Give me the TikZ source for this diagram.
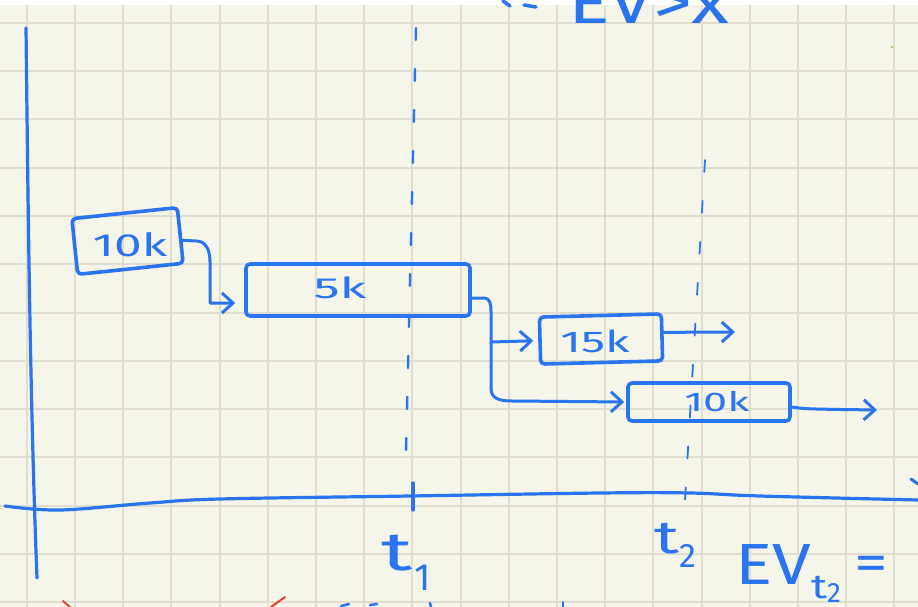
\documentclass[tikz,border=0pt]{standalone}
\usepackage{fontspec}
\setmainfont{Fira Sans}
\usetikzlibrary{arrows.meta}
\definecolor{paper}{RGB}{246,245,234}
\definecolor{gridc}{RGB}{223,222,208}
\definecolor{ink}{RGB}{42,116,240}
\definecolor{redink}{RGB}{214,72,50}
\definecolor{dotgreen}{RGB}{165,205,95}
\newcommand\hwtext[3]{{\fontsize{#1}{#1}\selectfont\scalebox{#2}[1]{#3}}}
\begin{document}
\begin{tikzpicture}[x=1pt,y=-1pt,
  inkline/.style={draw=ink, line cap=round, line join=round},
  gridline/.style={draw=gridc, line width=2pt},
  axisline/.style={inkline, line width=3.2pt},
  box/.style={inkline, line width=3.6pt, rounded corners=4pt, inner sep=0pt},
  conn/.style={inkline, line width=3pt, -{Straight Barb[length=11pt,width=20pt]}},
  guide/.style={inkline, line width=2.4pt, dash pattern=on 12pt off 29pt},
  guidethin/.style={inkline, line width=1.8pt, dash pattern=on 12pt off 29pt},
  boxtext/.style={text=ink, inner sep=0pt},
  handtext/.style={text=ink, inner sep=0pt, anchor=base west},
]
\useasboundingbox (0,0) rectangle (918,607);
\begin{scope}
\clip (0,0) rectangle (918,607);
% paper and grid
\fill[paper] (0,0) rectangle (918,607);
\foreach \i in {0,...,18} \draw[gridline] ({26.7+48.2*\i},0) -- ({26.7+48.2*\i},607);
\foreach \j in {0,...,12} \draw[gridline] (0,{22.7+48.3*\j}) -- (918,{22.7+48.3*\j});
\fill[white] (0,0) rectangle (918,5.5);
\fill[dotgreen] (892,47) circle (1.3);

% partly cut text at the top
\draw[inkline, line width=3.5pt] (503,1) -- (510,6);
\draw[inkline, line width=3.5pt] (524,5) -- (536,7);
\node[handtext] (toptext) at (568,24) {\hwtext{60}{1.3}{EV>x}};

% axes
\draw[axisline] (26,28) .. controls (28,200) and (30,400) .. (37,578);
\draw[axisline] plot[smooth, tension=0.6] coordinates {(5,506) (60,510) (150,503) (220,499) (410,496) (600,493) (690,493) (760,496) (918,500)};
\draw[axisline] (413,483) -- (413,510);
\draw[inkline, line width=3pt] (911,479) -- (918,484);

% time guides
\draw[guide] (416,28) -- (406,452);
\draw[guidethin] (705,160) -- (684,517);

% boxes
\node[box, minimum width=106pt, minimum height=56pt, rotate=6] (b10a) at (127.5,241) {};
\node[box, minimum width=224pt, minimum height=52pt] (b5) at (358,290) {};
\node[box, minimum width=122pt, minimum height=47pt, rotate=1.5] (b15) at (601,339) {};
\node[box, minimum width=162pt, minimum height=38pt] (b10b) at (709,402) {};

\node[boxtext] (l10a) at (130,245) {\hwtext{32}{1.55}{10k}};
\node[boxtext] (l5) at (340,288) {\hwtext{29}{1.8}{5k}};
\node[boxtext] (l15) at (595,341) {\hwtext{30}{1.6}{15k}};
\node[boxtext] (l10b) at (717,402) {\hwtext{27}{1.6}{10k}};

% connectors
\coordinate (split) at (491,342);
\coordinate (e15) at (735,332);
\coordinate (e10) at (877,410);
\draw[conn, shorten >=9pt] ([yshift=-5pt]b10a.east) -- (196,241) .. controls (206,241) and (210,250) .. (210,262) -- (210,303) -- ([yshift=-13pt]b5.west);
\draw[inkline, line width=3pt] ([yshift=-8pt]b5.east) -- (484,298) .. controls (490,298) and (491,304) .. (491,312) -- (split);
\draw[conn, shorten >=5pt] (split) -- (b15.west);
\draw[conn, shorten >=2pt] (split) -- (491,388) .. controls (491,398) and (498,401) .. (512,401) -- (b10b.west);
\draw[conn] ([yshift=5pt]b15.east) -- (e15);
\draw[conn] ([yshift=-5pt]b10b.east) .. controls (805,409) .. (e10);

% axis labels
\node[handtext] (t1) at (381,570) {\fontsize{54}{54}\selectfont\scalebox{1.6}[1]{t}\kern2pt\raisebox{-20pt}{\fontsize{38}{38}\selectfont 1}};
\node[handtext] (t2) at (654,553) {\fontsize{46}{46}\selectfont\scalebox{1.5}[1]{t}\raisebox{-14pt}{\fontsize{34}{34}\selectfont 2}};
\node[handtext] (ev) at (735,584) {\hwtext{58}{1.2}{EV}\raisebox{-14pt}{\fontsize{34}{34}\selectfont\scalebox{1.3}[1]{t}\raisebox{-4pt}{\fontsize{28}{28}\selectfont 2}}\hspace{14pt}\raisebox{4pt}{\hwtext{52}{1.3}{=}}};

% fragments of the next lines
\draw[draw=redink, line width=2pt, line cap=round] (63,601) -- (70,607);
\draw[draw=redink, line width=2pt, line cap=round] (285,597) -- (271,607);
\draw[inkline, line width=2.5pt] (341,606) -- (349,604);
\draw[inkline, line width=2.5pt] (370,605) -- (377,604);
\draw[inkline, line width=2.5pt] (430,603) -- (431,607);
\draw[inkline, line width=2.5pt] (563,602) -- (563,607);
\end{scope}
\end{tikzpicture}
\end{document}
